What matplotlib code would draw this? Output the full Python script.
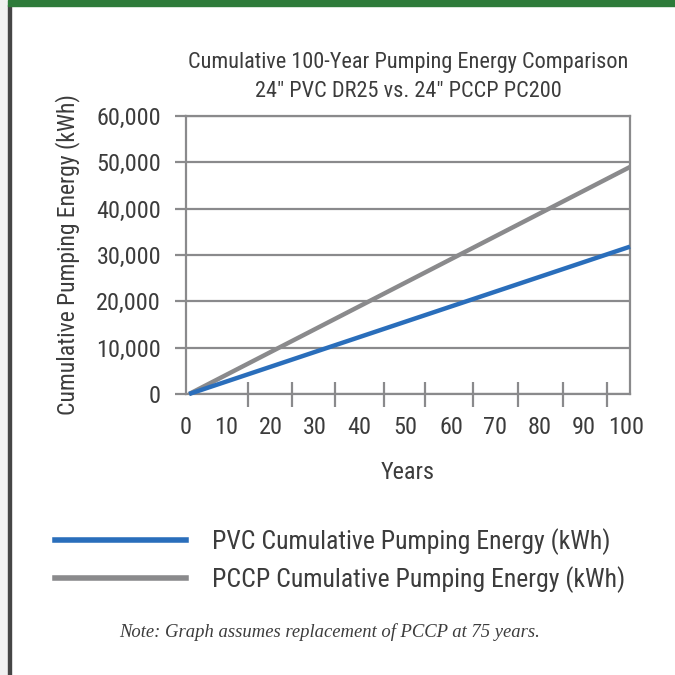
import matplotlib
matplotlib.use("Agg")
import matplotlib.pyplot as plt
from matplotlib.patches import Rectangle
from matplotlib.lines import Line2D

years = [0, 100]
pvc_energy = [0, 31800]
pccp_energy = [0, 49000]
series_labels = ["PVC Cumulative Pumping Energy (kWh)", "PCCP Cumulative Pumping Energy (kWh)"]
y_ticks = [0, 10000, 20000, 30000, 40000, 50000, 60000]
y_tick_labels = ["0", "10,000", "20,000", "30,000", "40,000", "50,000", "60,000"]
x_tick_labels = ["0", "10", "20", "30", "40", "50", "60", "70", "80", "90", "100"]
title = "Cumulative 100-Year Pumping Energy Comparison\n24\" PVC DR25 vs. 24\" PCCP PC200"
note = "Note: Graph assumes replacement of PCCP at 75 years."

# positions (style)
x_label_pos = [-0.7, 8.3, 18.5, 28.6, 38.7, 49.1, 59.5, 69.4, 79.5, 89.6, 99.1]
x_minor_pos = [13.3, 23.4, 33.1, 44.1, 53.6, 64.4, 74.5, 84.7, 94.8]

fam = ["Liberation Sans Narrow", "Roboto Condensed", "DejaVu Sans"]
plt.rcParams["font.family"] = fam
txt = "#3c3c3c"
gcol = "#8a8a8c"

fig = plt.figure(figsize=(6.75, 6.75), dpi=100)
fig.patch.set_facecolor("white")
# frame decorations
fig.add_artist(Rectangle((0, 0), 8/675, 1, transform=fig.transFigure, color="#f1f1f1", zorder=0))
fig.add_artist(Rectangle((8/675, 0), 3/675, 1 - 5/675, transform=fig.transFigure, color="#454545", zorder=1))
fig.add_artist(Rectangle((8/675, 1 - 6/675), 1, 6/675, transform=fig.transFigure, color="#2e7b3a", zorder=1))

ax = fig.add_axes([186/675, 1 - 394/675, 444/675, 278/675])
ax.plot(years, pccp_energy, color="#8a8a8c", lw=3.2, solid_capstyle="butt", zorder=3, clip_on=False)
ax.plot(years, pvc_energy, color="#2a6ebb", lw=3.2, solid_capstyle="butt", zorder=4, clip_on=False)
ax.set_xlim(0, 100)
ax.set_ylim(0, 60000)
ax.set_yticks(y_ticks)
ax.set_yticklabels(y_tick_labels)
ax.set_xticks(x_label_pos)
ax.set_xticklabels(x_tick_labels)
ax.set_xticks(x_minor_pos, minor=True)
ax.yaxis.grid(True, color=gcol, lw=1.6)
ax.set_axisbelow(True)
for s in ax.spines.values():
    s.set_color(gcol)
    s.set_linewidth(1.6)
ax.tick_params(axis="y", length=8, width=1.6, color=gcol, pad=10, labelsize=17.5, labelcolor=txt)
ax.tick_params(axis="x", which="major", length=0, pad=16, labelsize=17.5, labelcolor=txt)
ax.tick_params(axis="x", which="minor", direction="inout", length=18, width=1.6, color=gcol)

ax.set_title(title, fontsize=16, color=txt, pad=14, linespacing=1.48)
ax.set_xlabel("Years", fontsize=17.5, color=txt, labelpad=16)
ax.set_ylabel("Cumulative Pumping Energy (kWh)", fontsize=17, color=txt, labelpad=12)

handles = [Line2D([], [], color="#2a6ebb", lw=4), Line2D([], [], color="#8a8a8c", lw=4)]
fig.legend(handles, series_labels, loc="upper left", bbox_to_anchor=(32/675, 1 - 505/675),
           frameon=False, fontsize=18.5, handlelength=5.1, handletextpad=1.0, labelspacing=0.45,
           labelcolor=txt)
fig.text(330/675, 1 - 632/675, note, ha="center", va="center", fontsize=13.4, style="italic",
         family=["Liberation Serif", "DejaVu Serif"], color=txt)

fig.savefig("out.png", dpi=100)
